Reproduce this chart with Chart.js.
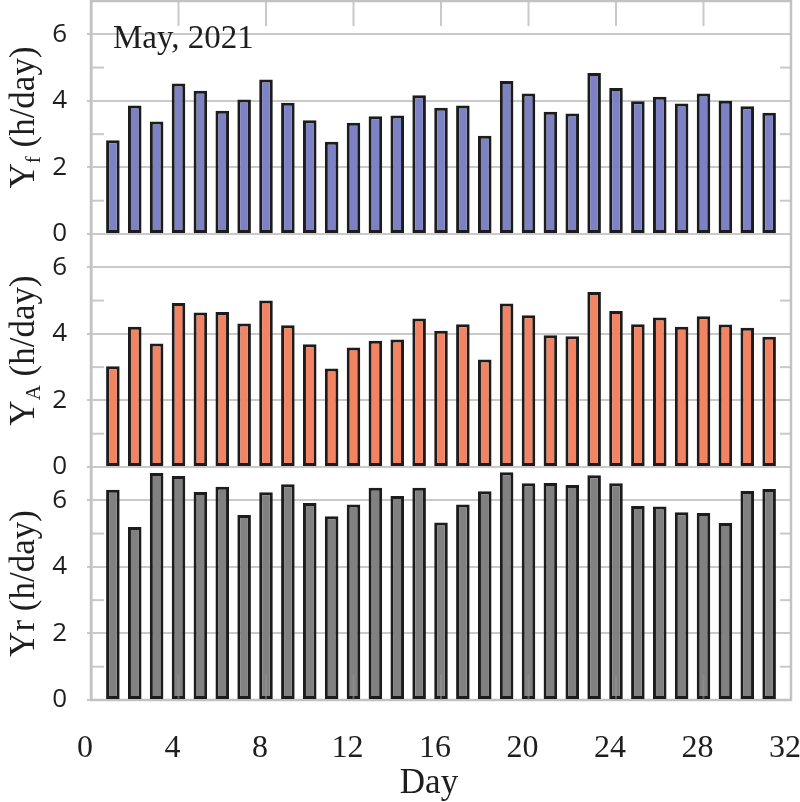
<!DOCTYPE html>
<html>
<head>
<meta charset="utf-8">
<title>Daily yields, May 2021</title>
<script src="https://cdn.jsdelivr.net/npm/chart.js@4.4.1/dist/chart.umd.min.js"></script>
<style>
  html, body { margin: 0; padding: 0; background: #fff; }
  #wrap { width: 800px; height: 802px; }
</style>
</head>
<body>
<div id="wrap"><canvas id="yieldChart"></canvas></div>
<script>
// data (h/day)
const days = [1, 2, 3, 4, 5, 6, 7, 8, 9, 10, 11, 12, 13, 14, 15, 16,
              17, 18, 19, 20, 21, 22, 23, 24, 25, 26, 27, 28, 29, 30, 31];
const yfValues = [2.82, 3.86, 3.38, 4.52, 4.30, 3.70, 4.04, 4.64, 3.94, 3.42, 2.77, 3.34, 3.54, 3.56, 4.17, 3.79,
                  3.86, 2.95, 4.60, 4.22, 3.67, 3.62, 4.84, 4.39, 3.99, 4.12, 3.92, 4.22, 4.00, 3.84, 3.64];
const yaValues = [3.03, 4.21, 3.71, 4.93, 4.64, 4.66, 4.31, 5.00, 4.26, 3.69, 2.96, 3.59, 3.79, 3.83, 4.46, 4.09,
                  4.29, 3.23, 4.91, 4.56, 3.96, 3.93, 5.26, 4.69, 4.29, 4.49, 4.21, 4.53, 4.28, 4.18, 3.91];
const yrValues = [6.32, 5.20, 6.82, 6.73, 6.25, 6.41, 5.56, 6.24, 6.48, 5.92, 5.52, 5.87, 6.38, 6.13, 6.38, 5.33,
                  5.87, 6.27, 6.84, 6.51, 6.52, 6.46, 6.75, 6.51, 5.83, 5.81, 5.64, 5.62, 5.32, 6.28, 6.34];

const xTicks = [0, 4, 8, 12, 16, 20, 24, 28, 32];
const yMajor = [0, 2, 4, 6];
const yMinor = [1, 3, 5];
const panelTitles = [['Y', 'f', ' (h/day)'], ['Y', 'A', ' (h/day)'], ['Yr (h/day)', '', '']];
const dateLabel = 'May, 2021';
const xTitle = 'Day';

const GRID = '#c9c9c9';
const FRAME = '#c2c2c2';
const INK = '#1e1e1e';
const SERIF = '"Liberation Serif", "Times New Roman", serif';

function panelAxis() {
  return {
    type: 'linear',
    position: 'left',
    stack: 'panels',
    stackWeight: 1,
    min: 0,
    max: 7,
    afterBuildTicks: s => { s.ticks = yMajor.map(v => ({ value: v })); },
    afterFit: s => { s.width = 91; s.paddingTop = 0; s.paddingBottom = 0; },
    grid: { color: GRID, lineWidth: 2, tickLength: 4, tickColor: GRID },
    border: { color: FRAME, width: 2.5 },
    ticks: { padding: 20, color: INK, font: { family: '"Open Sans"', size: 26 } }
  };
}

function bars(values, axisId, fill) {
  return {
    data: days.map((d, i) => ({ x: d, y: values[i] })),
    yAxisID: axisId,
    backgroundColor: fill,
    borderColor: '#1c1c1c',
    borderWidth: 3,
    borderSkipped: false,
    grouped: false,
    categoryPercentage: 1,
    barPercentage: 0.62
  };
}

// frame, minor ticks, panel titles
const panelDecor = {
  id: 'panelDecor',
  beforeDatasetsDraw(chart) {
    const { ctx, chartArea: a, scales } = chart;
    const line = (x1, y1, x2, y2) => { ctx.beginPath(); ctx.moveTo(x1, y1); ctx.lineTo(x2, y2); ctx.stroke(); };
    ctx.save();
    ctx.strokeStyle = GRID;
    ctx.lineWidth = 2;
    for (const id of ['yF', 'yA', 'yR']) {
      const s = scales[id];
      for (const v of yMinor) {
        const py = s.getPixelForValue(v);
        line(a.left, py, a.left + 13, py);
        line(a.right - 11, py, a.right, py);
      }
    }
    for (const v of xTicks.slice(1, -1)) {
      const px = scales.x.getPixelForValue(v);
      line(px, a.top, px, a.top + 25);
    }
    ctx.strokeStyle = FRAME;
    ctx.lineWidth = 2.5;
    ctx.strokeRect(a.left, a.top, a.right - a.left, a.bottom - a.top);
    ctx.restore();
  },
  afterDatasetsDraw(chart) {
    const { ctx, chartArea: a, scales } = chart;
    ctx.save();
    ctx.strokeStyle = 'rgba(150,150,150,0.55)';
    ctx.lineWidth = 2;
    for (const v of xTicks.slice(1, -1)) {
      const px = scales.x.getPixelForValue(v);
      ctx.beginPath(); ctx.moveTo(px, a.bottom); ctx.lineTo(px, a.bottom - 25); ctx.stroke();
    }
    ctx.restore();
  },
  afterDraw(chart) {
    const { ctx, chartArea: a, scales } = chart;
    ctx.save();
    ctx.fillStyle = INK;

    ctx.font = '33px ' + SERIF;
    ctx.textAlign = 'left';
    ctx.textBaseline = 'alphabetic';
    ctx.fillText(dateLabel, a.left + 22, a.top + 47);

    ctx.font = '35px ' + SERIF;
    ctx.textAlign = 'center';
    ctx.fillText(xTitle, scales.x.getPixelForValue(16) - 12, a.bottom + 93);

    ['yF', 'yA', 'yR'].forEach((id, i) => {
      const s = scales[id];
      const [main, sub, rest] = panelTitles[i];
      const big = '35px ' + SERIF, small = '21px ' + SERIF;
      ctx.font = big; const w1 = ctx.measureText(main).width, w3 = ctx.measureText(rest).width;
      ctx.font = small; const w2 = ctx.measureText(sub).width;
      ctx.save();
      ctx.translate(25, (s.top + s.bottom) / 2);
      ctx.rotate(-Math.PI / 2);
      ctx.textAlign = 'left';
      ctx.textBaseline = 'middle';
      let x = -(w1 + w2 + w3) / 2;
      ctx.font = big; ctx.fillText(main, x, 0); x += w1;
      ctx.font = small; ctx.fillText(sub, x, 9); x += w2;
      ctx.font = big; ctx.fillText(rest, x, 0);
      ctx.restore();
    });
    ctx.restore();
  }
};

const ctx = document.getElementById('yieldChart').getContext('2d');
new Chart(ctx, {
  type: 'bar',
  data: {
    datasets: [
      bars(yfValues, 'yF', '#7d82c4'),
      bars(yaValues, 'yA', '#f28464'),
      bars(yrValues, 'yR', '#818181')
    ]
  },
  options: {
    responsive: true,
    maintainAspectRatio: false,
    animation: false,
    layout: { padding: { top: 1, right: 9, left: 0, bottom: 0 } },
    plugins: { legend: { display: false }, tooltip: { enabled: false } },
    scales: {
      x: {
        type: 'linear',
        min: 0,
        max: 32,
        offset: false,
        afterBuildTicks: s => { s.ticks = xTicks.map(v => ({ value: v })); },
        afterFit: s => { s.height = 102; s.paddingLeft = 0; s.paddingRight = 0; },
        grid: { display: false, offset: false },
        border: { display: false },
        ticks: { padding: 21, labelOffset: -6, color: INK, maxRotation: 0, font: { family: SERIF, size: 32 } }
      },
      // later boxes are stacked first on the left, so the top panel is listed last
      yR: panelAxis(),
      yA: panelAxis(),
      yF: panelAxis()
    }
  },
  plugins: [panelDecor]
});
</script>
</body>
</html>
